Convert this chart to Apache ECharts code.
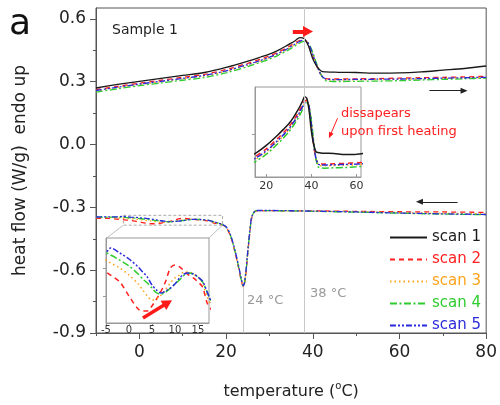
<!DOCTYPE html>
<html><head><meta charset="utf-8">
<script src="https://cdn.jsdelivr.net/npm/echarts@6/dist/echarts.min.js"></script>
<style>html,body{margin:0;padding:0;background:#fff}#c{width:500px;height:405px}</style>
</head><body><div id="c"></div>
<script>
// ---------- data ----------
const scanNames = ['scan 1', 'scan 2', 'scan 3', 'scan 4', 'scan 5'];
const xTickLabels = [0, 20, 40, 60, 80];
const xMinorTicks = [-10, 10, 30, 50, 70];
const yTickLabels = [-0.9, -0.6, -0.3, 0.0, 0.3, 0.6];
const yMinorTicks = [-0.75, -0.45, -0.15, 0.15, 0.45];
const inset1Labels = [20, 40, 60];
const inset2Labels = [-5, 0, 5, 10, 15];

// heating (upper curves)
const heatX = [-10, -5, 0, 5, 10, 15, 20, 25, 28, 30, 32, 34, 35, 36, 37, 38, 39, 40, 41, 42, 43, 44, 46, 50, 55, 60, 65, 70, 75, 80];
const heatScan1 = [0.270, 0.287, 0.302, 0.316, 0.330, 0.344, 0.368, 0.398, 0.418, 0.432, 0.450, 0.472, 0.484, 0.497, 0.511, 0.506, 0.470, 0.410, 0.372, 0.350, 0.347, 0.346, 0.345, 0.344, 0.341, 0.342, 0.347, 0.355, 0.363, 0.375];
const heatScan2 = [0.262, 0.278, 0.293, 0.307, 0.321, 0.335, 0.358, 0.388, 0.408, 0.423, 0.441, 0.462, 0.474, 0.487, 0.498, 0.501, 0.480, 0.425, 0.370, 0.330, 0.315, 0.313, 0.313, 0.314, 0.315, 0.317, 0.319, 0.321, 0.323, 0.326];
const heatScan3 = [0.256, 0.272, 0.287, 0.300, 0.314, 0.327, 0.349, 0.379, 0.399, 0.414, 0.432, 0.453, 0.465, 0.478, 0.490, 0.497, 0.483, 0.435, 0.375, 0.330, 0.310, 0.308, 0.308, 0.309, 0.310, 0.311, 0.313, 0.315, 0.317, 0.319];
const heatScan4 = [0.250, 0.266, 0.281, 0.294, 0.307, 0.320, 0.342, 0.372, 0.393, 0.408, 0.426, 0.447, 0.459, 0.472, 0.485, 0.493, 0.482, 0.440, 0.380, 0.330, 0.305, 0.302, 0.301, 0.302, 0.303, 0.305, 0.308, 0.311, 0.314, 0.317];
const heatScan5 = [0.258, 0.274, 0.289, 0.302, 0.316, 0.330, 0.352, 0.382, 0.402, 0.417, 0.435, 0.456, 0.468, 0.481, 0.493, 0.498, 0.482, 0.430, 0.372, 0.330, 0.313, 0.311, 0.310, 0.311, 0.312, 0.313, 0.315, 0.317, 0.319, 0.321];

// cooling (lower curves)
const coolX = [-10, -7, -5, -4, -2, 0, 2, 3, 4, 5, 6, 7, 8, 9, 10, 11, 12, 13, 14, 15, 16, 17, 18, 19, 20, 21, 22, 23, 23.5, 24, 24.5, 25, 25.5, 26, 27, 30, 40, 50, 60, 70, 80];
const coolScan2 = [-0.352, -0.353, -0.3568, -0.3585, -0.3623, -0.3701, -0.3773, -0.3784, -0.3784, -0.3756, -0.3717, -0.3673, -0.3618, -0.3546, -0.3529, -0.3540, -0.3562, -0.3585, -0.3601, -0.3623, -0.3651, -0.3739, -0.378, -0.383, -0.396, -0.437, -0.510, -0.600, -0.650, -0.680, -0.630, -0.520, -0.420, -0.345, -0.317, -0.316, -0.317, -0.319, -0.321, -0.322, -0.324];
const coolScan3 = [-0.349, -0.349, -0.3502, -0.3518, -0.3546, -0.3585, -0.3634, -0.3668, -0.3701, -0.3723, -0.3717, -0.3695, -0.3662, -0.3629, -0.3601, -0.3585, -0.3568, -0.3568, -0.3579, -0.3596, -0.3629, -0.3706, -0.376, -0.382, -0.395, -0.435, -0.505, -0.595, -0.645, -0.677, -0.620, -0.512, -0.412, -0.341, -0.316, -0.316, -0.318, -0.321, -0.325, -0.328, -0.331];
const coolScan4 = [-0.347, -0.347, -0.3463, -0.3474, -0.3502, -0.3535, -0.3579, -0.3607, -0.3629, -0.3657, -0.3684, -0.3690, -0.3679, -0.3657, -0.3634, -0.3612, -0.3585, -0.3574, -0.3579, -0.3596, -0.3623, -0.3679, -0.374, -0.381, -0.394, -0.433, -0.505, -0.595, -0.645, -0.678, -0.625, -0.515, -0.415, -0.342, -0.316, -0.316, -0.319, -0.323, -0.328, -0.332, -0.335];
const coolScan5 = [-0.346, -0.345, -0.3457, -0.3435, -0.3463, -0.3496, -0.3540, -0.3568, -0.3596, -0.3640, -0.3668, -0.3684, -0.3673, -0.3657, -0.3634, -0.3601, -0.3579, -0.3574, -0.3579, -0.3596, -0.3618, -0.3679, -0.374, -0.380, -0.392, -0.430, -0.500, -0.590, -0.640, -0.675, -0.620, -0.510, -0.410, -0.340, -0.315, -0.315, -0.318, -0.322, -0.327, -0.331, -0.334];

// ---------- styles ----------
const FONT = 'DejaVu Sans';
const colors = ['#1a1a1a', '#ff1f1f', '#ffa31a', '#2fcc2f', '#2b2bdc'];
const dashes = ['solid', [5, 4], [1.5, 3], [7, 2.5, 2, 2.5], [6, 2, 2, 2, 2, 2]];
const heat = [heatScan1, heatScan2, heatScan3, heatScan4, heatScan5];
const cool = [null, coolScan2, coolScan3, coolScan4, coolScan5];

function pairs(xs, ys) { return xs.map((x, i) => [x, ys[i]]); }

const series = [];
function lineSeries(i, xs, ys, xi, yi, width) {
  return {
    type: 'line', name: scanNames[i], xAxisIndex: xi, yAxisIndex: yi,
    data: pairs(xs, ys), symbol: 'none', showSymbol: false, smooth: 0.3,
    lineStyle: { color: colors[i], width: width, type: dashes[i] },
    itemStyle: { color: colors[i] },
    z: i === 0 ? 4 : 3, silent: true, clip: true
  };
}
const grey = '#c8c8c8';
// main heating
for (let i = 0; i < 5; i++) series.push(lineSeries(i, heatX, heat[i], 0, 0, 1.3));
series[0].markLine = {
  silent: true, animation: false, symbol: 'none', label: { show: false },
  data: [
    [{ coord: [38, -0.9], lineStyle: { color: grey, width: 1, type: 'solid' } }, { coord: [38, 0.652] }],
    [{ coord: [35.4, 0.54], symbol: 'none', lineStyle: { color: '#ff1a1a', width: 4, type: 'solid' } },
     { coord: [38.9, 0.54], symbol: 'triangle', symbolSize: [11, 10] }],
    [{ coord: [66.9, 0.257], symbol: 'none', lineStyle: { color: '#222', width: 1, type: 'solid' } },
     { coord: [74.9, 0.257], symbol: 'triangle', symbolSize: [6, 7] }]
  ]
};
// main cooling
for (let i = 1; i < 5; i++) series.push(lineSeries(i, coolX, cool[i], 0, 0, 1.3));
series[5].markLine = {
  silent: true, animation: false, symbol: 'none', label: { show: false },
  data: [
    [{ coord: [24, -0.68], lineStyle: { color: grey, width: 1, type: 'solid' } }, { coord: [24, -0.9] }],
    [{ coord: [73.4, -0.2735], symbol: 'none', lineStyle: { color: '#222', width: 1, type: 'solid' } },
     { coord: [64.6, -0.2735], symbol: 'triangle', symbolSize: [6, 7] }],
    [{ coord: [-3.7, -0.385], lineStyle: { color: '#b0b0b0', width: 0.8, type: 'solid' } }, { coord: [-7.54, -0.4467] }],
    [{ coord: [19.2, -0.385], lineStyle: { color: '#b0b0b0', width: 0.8, type: 'solid' } }, { coord: [16.0, -0.4467] }]
  ]
};
series[5].markArea = {
  silent: true, animation: false, label: { show: false },
  itemStyle: { color: 'rgba(0,0,0,0)', borderColor: '#aaaaaa', borderWidth: 1, borderType: [3, 2] },
  data: [[{ coord: [-3.7, -0.338] }, { coord: [19.2, -0.385] }]]
};
// inset 1 (heating zoom)
for (let i = 0; i < 5; i++) series.push(lineSeries(i, heatX, heat[i], 2, 2, 1.5));
series[9].markLine = {
  silent: true, animation: false, symbol: 'none', label: { show: false },
  data: [
    [{ coord: [51.6, 0.448], symbol: 'none', lineStyle: { color: '#ff1a1a', width: 1, type: 'solid' } },
     { coord: [48.3, 0.397], symbol: 'triangle', symbolSize: [5, 6] }]
  ]
};
// inset 2 (cooling zoom)
for (let i = 1; i < 5; i++) series.push(lineSeries(i, coolX, cool[i], 3, 3, 1.5));
series[14].markLine = {
  silent: true, animation: false, symbol: 'none', label: { show: false },
  data: [
    [{ coord: [3.04, -0.3822], symbol: 'none', lineStyle: { color: '#ff1a1a', width: 3.5, type: 'solid' } },
     { coord: [8.42, -0.3738], symbol: 'triangle', symbolSize: [11, 10] }]
  ]
};

const axisCol = '#555';
const labelStyle = { fontFamily: FONT, color: '#222' };

const option = {
  animation: false,
  backgroundColor: '#fff',
  textStyle: { fontFamily: FONT },
  grid: [
    { left: 96, top: 8, width: 392, height: 328, show: true, borderColor: axisCol, borderWidth: 1, containLabel: false },
    { left: 255, top: 87, width: 106, height: 90, show: true, borderColor: '#999', borderWidth: 1 },
    { left: 106, top: 238, width: 103, height: 85, show: true, borderColor: '#999', borderWidth: 1 }
  ],
  xAxis: [
    { type: 'value', gridIndex: 0, position: 'bottom', min: -10, max: 80,
      axisLine: { show: true, onZero: false, lineStyle: { color: axisCol, width: 1 } },
      axisTick: { show: true, customValues: xTickLabels, length: 6, lineStyle: { color: axisCol } },
      axisLabel: { customValues: xTickLabels, fontSize: 17, margin: 11, ...labelStyle },
      splitLine: { show: false },
      name: 'temperature ({s|o}C)', nameLocation: 'middle', nameGap: 48,
      nameTextStyle: { fontSize: 16, fontFamily: FONT, color: '#222',
        rich: { s: { fontSize: 10, fontFamily: FONT, color: '#222', padding: [0, 0, 12, 0] } } } },
    { type: 'value', gridIndex: 0, position: 'bottom', offset: 0, min: -10, max: 80,
      axisLine: { show: false, onZero: false },
      axisTick: { show: true, customValues: xMinorTicks, length: 3, lineStyle: { color: axisCol } },
      axisLabel: { show: false }, splitLine: { show: false } },
    { type: 'value', gridIndex: 1, position: 'bottom', min: 15, max: 62,
      axisLine: { show: true, onZero: false, lineStyle: { color: '#999' } },
      axisTick: { show: true, customValues: inset1Labels, length: 3, inside: true, lineStyle: { color: '#999' } },
      axisLabel: { customValues: inset1Labels, fontSize: 11, margin: 4, fontFamily: FONT, color: '#333' },
      splitLine: { show: false } },
    { type: 'value', gridIndex: 2, position: 'bottom', min: -5, max: 17.4,
      axisLine: { show: true, onZero: false, lineStyle: { color: '#999' } },
      axisTick: { show: true, customValues: inset2Labels, length: 2, lineStyle: { color: '#999' } },
      axisLabel: { customValues: inset2Labels, fontSize: 10, margin: 2, fontFamily: FONT, color: '#333' },
      splitLine: { show: false } }
  ],
  yAxis: [
    { type: 'value', gridIndex: 0, position: 'left', min: -0.9, max: 0.652,
      axisLine: { show: true, onZero: false, lineStyle: { color: axisCol, width: 1 } },
      axisTick: { show: true, customValues: yTickLabels, length: 6, lineStyle: { color: axisCol } },
      axisLabel: { customValues: yTickLabels, fontSize: 17, margin: 10, formatter: v => Number(v).toFixed(1), ...labelStyle },
      splitLine: { show: false },
      name: 'heat flow (W/g)  endo up', nameLocation: 'middle', nameRotate: 90, nameGap: 67,
      nameTextStyle: { fontSize: 17, fontFamily: FONT, color: '#222' } },
    { type: 'value', gridIndex: 0, position: 'left', offset: 0, min: -0.9, max: 0.652,
      axisLine: { show: false, onZero: false },
      axisTick: { show: true, customValues: yMinorTicks, length: 3, lineStyle: { color: axisCol } },
      axisLabel: { show: false }, splitLine: { show: false } },
    { type: 'value', gridIndex: 1, position: 'left', min: 0.275, max: 0.54,
      axisLine: { show: true, onZero: false, lineStyle: { color: '#999' } },
      axisTick: { show: true, customValues: [0.4], length: 3, lineStyle: { color: '#999' } },
      axisLabel: { show: false }, splitLine: { show: false } },
    { type: 'value', gridIndex: 2, position: 'left', min: -0.385, max: -0.338,
      axisLine: { show: true, onZero: false, lineStyle: { color: '#999' } },
      axisTick: { show: true, customValues: [-0.37, -0.355], length: 3, lineStyle: { color: '#999' } },
      axisLabel: { show: false }, splitLine: { show: false } }
  ],
  legend: {
    orient: 'vertical', left: 389, top: 230, padding: 0, itemWidth: 37, itemHeight: 14, itemGap: 7,
    selectedMode: false,
    itemStyle: { color: 'rgba(0,0,0,0)', borderWidth: 0, opacity: 0 },
    textStyle: { fontSize: 15, fontFamily: FONT },
    data: scanNames.map((n, i) => ({ name: n, textStyle: { color: colors[i] } }))
  },
  graphic: [
    { type: 'text', x: 9, y: 25, style: { text: 'a', font: '36px "DejaVu Sans"', fill: '#111', verticalAlign: 'middle' } },
    { type: 'text', x: 112, y: 30, style: { text: 'Sample 1', font: '14px "DejaVu Sans"', fill: '#222', verticalAlign: 'middle' } },
    { type: 'text', x: 341, y: 114, style: { text: 'dissapears', font: '13px "DejaVu Sans"', fill: '#ff2020', verticalAlign: 'middle' } },
    { type: 'text', x: 341, y: 132, style: { text: 'upon first heating', font: '13px "DejaVu Sans"', fill: '#ff2020', verticalAlign: 'middle' } },
    { type: 'text', x: 247, y: 301, style: { text: '24 °C', font: '13px "DejaVu Sans"', fill: '#999', verticalAlign: 'middle' } },
    { type: 'text', x: 310, y: 294, style: { text: '38 °C', font: '13px "DejaVu Sans"', fill: '#999', verticalAlign: 'middle' } }
  ],
  series: series
};

const chart = echarts.init(document.getElementById('c'), null, { renderer: 'canvas' });
chart.setOption(option);
</script></body></html>
